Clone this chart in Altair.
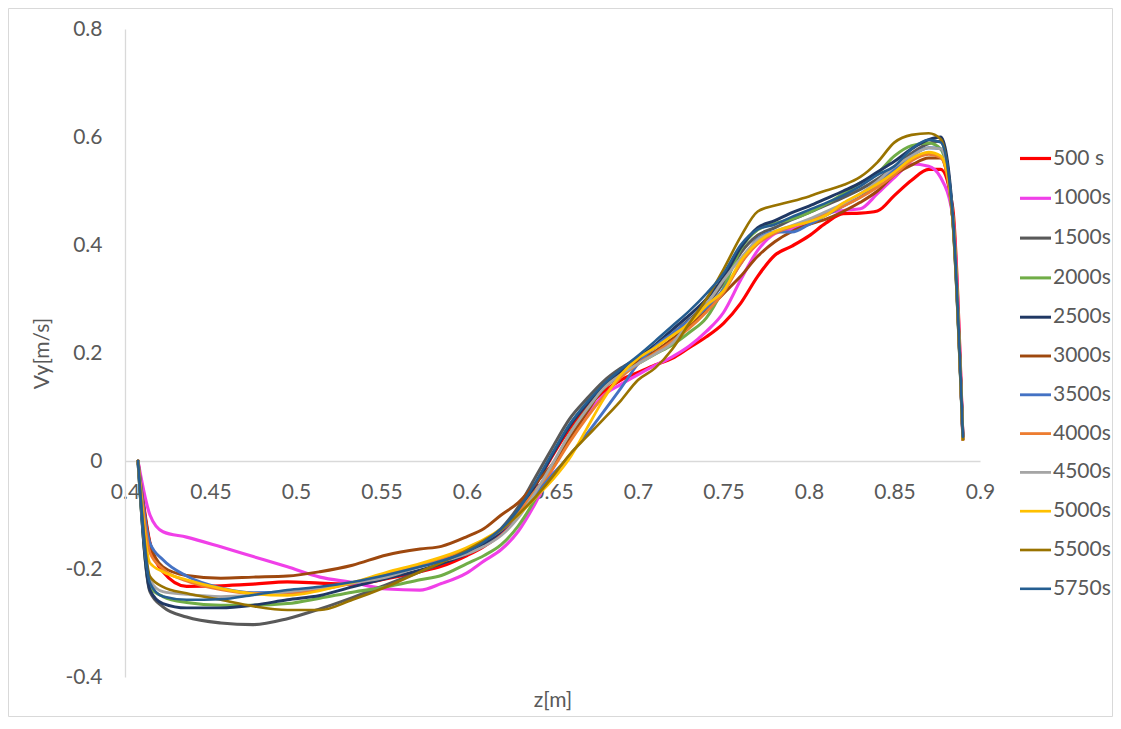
import altair as alt
import pandas as pd

# ---- data ----
Z = [0.4076, 0.4146, 0.4222, 0.436, 0.456, 0.475, 0.495, 0.514, 0.533, 0.553, 0.5725,
     0.585, 0.60, 0.61, 0.62, 0.63, 0.64, 0.65, 0.66, 0.67, 0.68, 0.69, 0.70, 0.71, 0.72,
     0.73, 0.74, 0.75, 0.76, 0.77, 0.78, 0.79, 0.80, 0.81, 0.82, 0.83, 0.84, 0.85, 0.86,
     0.87, 0.877, 0.884, 0.89]

v500 = [0, -0.152, -0.205, -0.232, -0.231, -0.228, -0.224, -0.226, -0.228, -0.218, -0.205,
        -0.195, -0.175, -0.158, -0.135, -0.095, -0.045, 0.010, 0.060, 0.100, 0.128, 0.150,
        0.164, 0.178, 0.190, 0.210, 0.230, 0.255, 0.292, 0.342, 0.381, 0.398, 0.417, 0.441,
        0.458, 0.459, 0.463, 0.492, 0.520, 0.540, 0.540, 0.470, 0.040]
v1000 = [0, -0.100, -0.131, -0.141, -0.159, -0.177, -0.196, -0.215, -0.225, -0.237, -0.239,
         -0.227, -0.207, -0.185, -0.164, -0.130, -0.078, -0.015, 0.040, 0.085, 0.122, 0.142,
         0.160, 0.177, 0.193, 0.213, 0.240, 0.275, 0.335, 0.390, 0.421, 0.430, 0.440, 0.458,
         0.464, 0.467, 0.495, 0.525, 0.550, 0.546, 0.525, 0.455, 0.040]
v1500 = [0, -0.242, -0.270, -0.289, -0.300, -0.303, -0.292, -0.274, -0.253, -0.229, -0.205,
         -0.190, -0.170, -0.152, -0.125, -0.085, -0.030, 0.025, 0.078, 0.115, 0.148, 0.172,
         0.190, 0.210, 0.235, 0.262, 0.290, 0.330, 0.385, 0.418, 0.432, 0.447, 0.460, 0.474,
         0.488, 0.503, 0.522, 0.545, 0.570, 0.588, 0.592, 0.450, 0.045]
v2000 = [0, -0.233, -0.251, -0.262, -0.267, -0.267, -0.264, -0.254, -0.243, -0.233, -0.220,
         -0.212, -0.190, -0.175, -0.155, -0.120, -0.070, -0.010, 0.050, 0.095, 0.135, 0.160,
         0.180, 0.198, 0.215, 0.238, 0.265, 0.320, 0.392, 0.428, 0.440, 0.448, 0.460, 0.476,
         0.495, 0.515, 0.533, 0.565, 0.584, 0.589, 0.578, 0.450, 0.040]
v2500 = [0, -0.239, -0.264, -0.272, -0.272, -0.267, -0.257, -0.249, -0.233, -0.217, -0.202,
         -0.190, -0.172, -0.155, -0.130, -0.095, -0.045, 0.012, 0.065, 0.105, 0.140, 0.165,
         0.190, 0.215, 0.243, 0.270, 0.300, 0.340, 0.395, 0.432, 0.445, 0.460, 0.472, 0.486,
         0.500, 0.515, 0.535, 0.555, 0.578, 0.595, 0.600, 0.460, 0.045]
v3000 = [0, -0.152, -0.196, -0.212, -0.217, -0.215, -0.213, -0.205, -0.193, -0.174, -0.163,
         -0.158, -0.140, -0.125, -0.100, -0.077, -0.042, -0.006, 0.040, 0.090, 0.135, 0.160,
         0.185, 0.203, 0.226, 0.250, 0.278, 0.310, 0.342, 0.379, 0.406, 0.425, 0.438, 0.448,
         0.462, 0.479, 0.500, 0.530, 0.548, 0.561, 0.561, 0.450, 0.040]
v3500 = [0, -0.152, -0.183, -0.213, -0.235, -0.244, -0.242, -0.235, -0.226, -0.211, -0.193,
         -0.182, -0.165, -0.148, -0.128, -0.100, -0.060, -0.025, 0.010, 0.050, 0.092, 0.135,
         0.180, 0.212, 0.236, 0.260, 0.284, 0.318, 0.365, 0.412, 0.424, 0.424, 0.438, 0.455,
         0.472, 0.489, 0.512, 0.540, 0.565, 0.580, 0.578, 0.450, 0.040]
v4000 = [0, -0.170, -0.200, -0.222, -0.238, -0.245, -0.246, -0.238, -0.226, -0.208, -0.192,
         -0.180, -0.163, -0.147, -0.126, -0.095, -0.055, -0.015, 0.035, 0.080, 0.120, 0.155,
         0.180, 0.200, 0.222, 0.246, 0.276, 0.312, 0.365, 0.402, 0.422, 0.434, 0.445, 0.458,
         0.472, 0.488, 0.507, 0.530, 0.556, 0.568, 0.562, 0.450, 0.040]
v4500 = [0, -0.220, -0.242, -0.247, -0.251, -0.248, -0.242, -0.235, -0.226, -0.215, -0.196,
         -0.186, -0.172, -0.158, -0.138, -0.105, -0.058, -0.005, 0.050, 0.095, 0.135, 0.160,
         0.180, 0.198, 0.218, 0.258, 0.290, 0.335, 0.375, 0.410, 0.425, 0.436, 0.448, 0.462,
         0.477, 0.495, 0.518, 0.545, 0.565, 0.580, 0.578, 0.450, 0.040]
v5000 = [0, -0.189, -0.205, -0.220, -0.236, -0.246, -0.249, -0.240, -0.225, -0.206, -0.190,
         -0.178, -0.160, -0.145, -0.125, -0.100, -0.068, -0.035, 0.005, 0.060, 0.115, 0.160,
         0.190, 0.210, 0.232, 0.255, 0.288, 0.315, 0.370, 0.405, 0.425, 0.435, 0.443, 0.455,
         0.478, 0.495, 0.513, 0.535, 0.560, 0.572, 0.565, 0.460, 0.040]
v5500 = [0, -0.214, -0.233, -0.245, -0.257, -0.269, -0.276, -0.276, -0.257, -0.233, -0.205,
         -0.188, -0.165, -0.147, -0.127, -0.099, -0.067, -0.029, 0.012, 0.045, 0.078, 0.112,
         0.150, 0.172, 0.207, 0.255, 0.300, 0.355, 0.415, 0.462, 0.473, 0.481, 0.490, 0.501,
         0.511, 0.526, 0.553, 0.590, 0.604, 0.607, 0.596, 0.446, 0.040]
v5750 = [0, -0.226, -0.251, -0.257, -0.256, -0.248, -0.239, -0.233, -0.224, -0.211, -0.196,
         -0.185, -0.168, -0.150, -0.125, -0.090, -0.040, 0.015, 0.068, 0.108, 0.142, 0.170,
         0.195, 0.222, 0.250, 0.278, 0.310, 0.347, 0.400, 0.429, 0.438, 0.452, 0.465, 0.478,
         0.492, 0.509, 0.530, 0.546, 0.578, 0.595, 0.590, 0.460, 0.045]

SERIES = ["500 s", "1000s", "1500s", "2000s", "2500s", "3000s",
          "3500s", "4000s", "4500s", "5000s", "5500s", "5750s"]
VALUES = [v500, v1000, v1500, v2000, v2500, v3000,
          v3500, v4000, v4500, v5000, v5500, v5750]
COLORS = ["#FF0000", "#F040E8", "#595959", "#70AD47", "#203864", "#9E480E",
          "#4472C4", "#ED7D31", "#A5A5A5", "#FFC000", "#997300", "#255E91"]
WIDTHS = [3.2, 2.6, 2, 2, 2, 2, 2, 2, 2, 2, 2, 2]

X_TICKS = [0.4, 0.45, 0.5, 0.55, 0.6, 0.65, 0.7, 0.75, 0.8, 0.85, 0.9]
Y_TICKS = [-0.4, -0.2, 0, 0.2, 0.4, 0.6, 0.8]

rows = []
for name, vals in zip(SERIES, VALUES):
    for z, v in zip(Z, vals):
        rows.append({"z": z, "v": v, "series": name})
df = pd.DataFrame(rows)

W, H = 855, 648
PAD = {"left": 117, "top": 21, "right": 133, "bottom": 40}
TEXT = "#595959"
FONT = "Lato"

lines = alt.Chart(df).mark_line(strokeJoin="round", strokeCap="round",
                                interpolate="monotone").encode(
    x=alt.X("z:Q",
            scale=alt.Scale(domain=[0.4, 0.9], nice=False, zero=False),
            axis=alt.Axis(values=X_TICKS, offset=-216, title="z[m]",
                          labelExpr="toString(round(datum.value*100)/100)",
                          labelFlush=False, labelOverlap=False, labelPadding=20,
                          titleY=239, titleBaseline="middle")),
    y=alt.Y("v:Q",
            scale=alt.Scale(domain=[-0.4, 0.8], nice=False, zero=False),
            axis=alt.Axis(values=Y_TICKS, title="Vy[m/s]",
                          labelExpr="toString(round(datum.value*10)/10)",
                          labelPadding=23, labelOverlap=False,
                          titleX=-83, titleY=324, titleBaseline="middle")),
    color=alt.Color("series:N",
                    scale=alt.Scale(domain=SERIES, range=COLORS),
                    legend=alt.Legend(orient="none", legendX=893, legendY=112,
                                      title=None, symbolType="stroke", symbolSize=961,
                                      symbolStrokeWidth=2.5, labelFont=FONT,
                                      labelFontSize=21, labelColor=TEXT, labelOffset=0,
                                      rowPadding=11.8, padding=0)),
    strokeWidth=alt.StrokeWidth("series:N",
                                scale=alt.Scale(domain=SERIES, range=WIDTHS),
                                legend=None),
)

border = alt.Chart(pd.DataFrame({"a": [0]})).mark_rect(
    fillOpacity=0, stroke="#D9D9D9", strokeWidth=1
).encode(
    x=alt.value(-PAD["left"] + 0.5), x2=alt.value(W + PAD["right"] - 0.5),
    y=alt.value(-PAD["top"] + 0.5), y2=alt.value(H + PAD["bottom"] - 0.5),
)

chart = alt.layer(border, lines).properties(
    width=W, height=H,
    autosize=alt.AutoSizeParams(type="none"),
    padding=PAD,
).configure(font=FONT).configure_axis(
    grid=False, ticks=False, tickSize=0,
    domainColor="#D9D9D9", domainWidth=1.3,
    labelFont=FONT, labelFontSize=21, labelColor=TEXT,
    titleFont=FONT, titleFontSize=21, titleColor=TEXT, titleFontWeight="normal",
).configure_view(strokeOpacity=0)

chart.save("out.html", embed_options={"renderer": "svg", "actions": False})
